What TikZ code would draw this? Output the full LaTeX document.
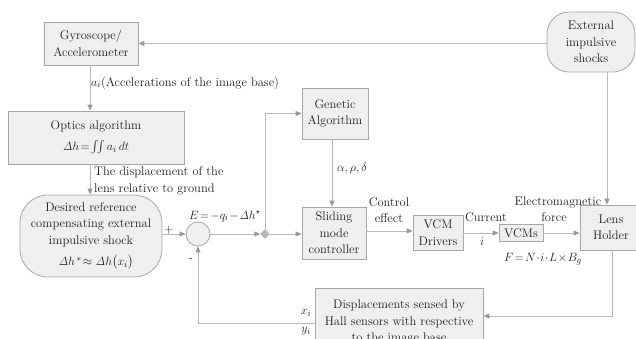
\documentclass[tikz,border=0pt]{standalone}
\usepackage{amsmath}
\usetikzlibrary{arrows.meta,shapes.geometric}
\definecolor{boxfill}{HTML}{EFEFEF}
\definecolor{boxline}{HTML}{A8A8A8}
\definecolor{conn}{HTML}{B8B8B8}
\definecolor{tip}{HTML}{999999}
\definecolor{txt}{HTML}{202020}
\tikzset{
  blk/.style={draw=boxline,fill=boxfill,line width=0.8pt,inner sep=0pt,align=center,text=txt},
  conline/.style={draw=conn,line width=0.9pt},
  arr/.style={conline,-{Triangle[length=6pt,width=5pt,fill=tip,color=tip]}},
  lbl/.style={inner sep=0pt,text=txt,align=left}
}
\begin{document}
\begin{tikzpicture}[x=1pt,y=-1pt,font=\fontsize{12.5}{16.5}\selectfont]
\useasboundingbox (0,0) rectangle (636,338);
% blocks
\node[blk,minimum width=94,minimum height=43] (gyro) at (91,43.5) {Gyroscope/\\Accelerometer};
\node[blk,minimum width=88,minimum height=60,rounded corners=22pt] (ext) at (591,42) {External\\impulsive\\shocks};
\node[blk,minimum width=176,minimum height=53] (optics) at (96,137.5) {Optics algorithm\\[4pt]$\mathit{\Delta} h\!=\!\iint a_i\,dt$};
\node[blk,minimum width=142,minimum height=82,rounded corners=28pt] (des) at (91,236) {Desired reference\\compensating external\\impulsive shock\\[5pt]\hspace*{10pt}$\mathit{\Delta} h^{\,*}\!\approx\mathit{\Delta} h\bigl(x_i\bigr)$};
\node[draw=boxline,fill=boxfill,line width=0.8pt,circle,minimum size=24,inner sep=0pt] (sum) at (198,234) {};
\node[draw=boxline,fill=tip!70,diamond,minimum size=9,inner sep=0pt] (dia) at (265,234) {};
\node[blk,minimum width=66,minimum height=51] (gen) at (335,113.5) {Genetic\\Algorithm};
\node[blk,minimum width=64,minimum height=52] (slide) at (334,233) {Sliding\\mode\\controller};
\node[blk,minimum width=50,minimum height=35] (drv) at (438,232.5) {VCM\\Drivers};
\node[blk,minimum width=44,minimum height=17] (vcm) at (521,233) {VCMs};
\node[blk,minimum width=62,minimum height=45] (lens) at (611,227.5) {Lens\\Holder};
\node[blk,minimum width=168,minimum height=68] (disp) at (399,322) {Displacements sensed by\\Hall sensors with respective\\to the image base};
% connectors
\draw[arr] (ext.west |- gyro.east) -- (gyro.east);
\draw[arr] ([xshift=-1pt]gyro.south) -- ([xshift=-1pt]gyro.south |- optics.north);
\draw[arr] (optics.south -| gyro.south) ++(-1,0) coordinate (o1) -- (o1 |- des.north);
\draw[arr] (des.east |- sum.west) -- (sum.west);
\draw[arr] (sum.east) -- (dia.west);
\draw[arr] (dia.east) -- (slide.west |- dia.east);
\draw[arr] (dia.north) |- (gen.west);
\draw[arr] ([xshift=-3pt]gen.south) -- ([xshift=-3pt]gen.south |- slide.north);
\draw[arr] ([yshift=2pt]slide.east) -- ([yshift=2pt]slide.east -| drv.west);
\draw[arr] (drv.east |- vcm.west) -- (vcm.west);
\draw[arr] (vcm.east) -- (vcm.east -| lens.west);
\draw[arr] ([xshift=16pt]ext.south) -- ([xshift=16pt]ext.south |- lens.north);
\draw[arr] ([xshift=1pt]lens.south) |- ([yshift=6pt]disp.east);
\draw[arr] ([yshift=-1pt]disp.west) -| (sum.south);
% labels
\node[lbl,anchor=west] (la) at (91,83) {$a_i$(Accelerations of the image base)};
\node[lbl,anchor=west] (ld) at (94,181) {The displacement of the\\lens relative to ground};
\node[lbl] (lp) at (169,230) {+};
\node[lbl] (lm) at (191,260) {-};
\node[lbl] (le) at (225,216) {$E\!=\!-q_i\!-\!\mathit{\Delta} h^{\star}$};
\node[lbl,anchor=west] (lg) at (337,168) {$\alpha,\rho,\delta$};
\node[lbl,align=center] (lc) at (389,210) {Control\\effect};
\node[lbl] (lcur) at (486,217) {Current};
\node[lbl] (li) at (482,242) {$i$};
\node[lbl] (lem) at (558,202) {Electromagnetic};
\node[lbl] (lf) at (554,217) {force};
\node[lbl] (lF) at (543,259) {$F\!=\!N\!\cdot\! i\!\cdot\! L\!\times\! B_g$};
\node[lbl] (lx) at (306,313) {$x_i$};
\node[lbl] (ly) at (306,331) {$y_i$};
\end{tikzpicture}
\end{document}
